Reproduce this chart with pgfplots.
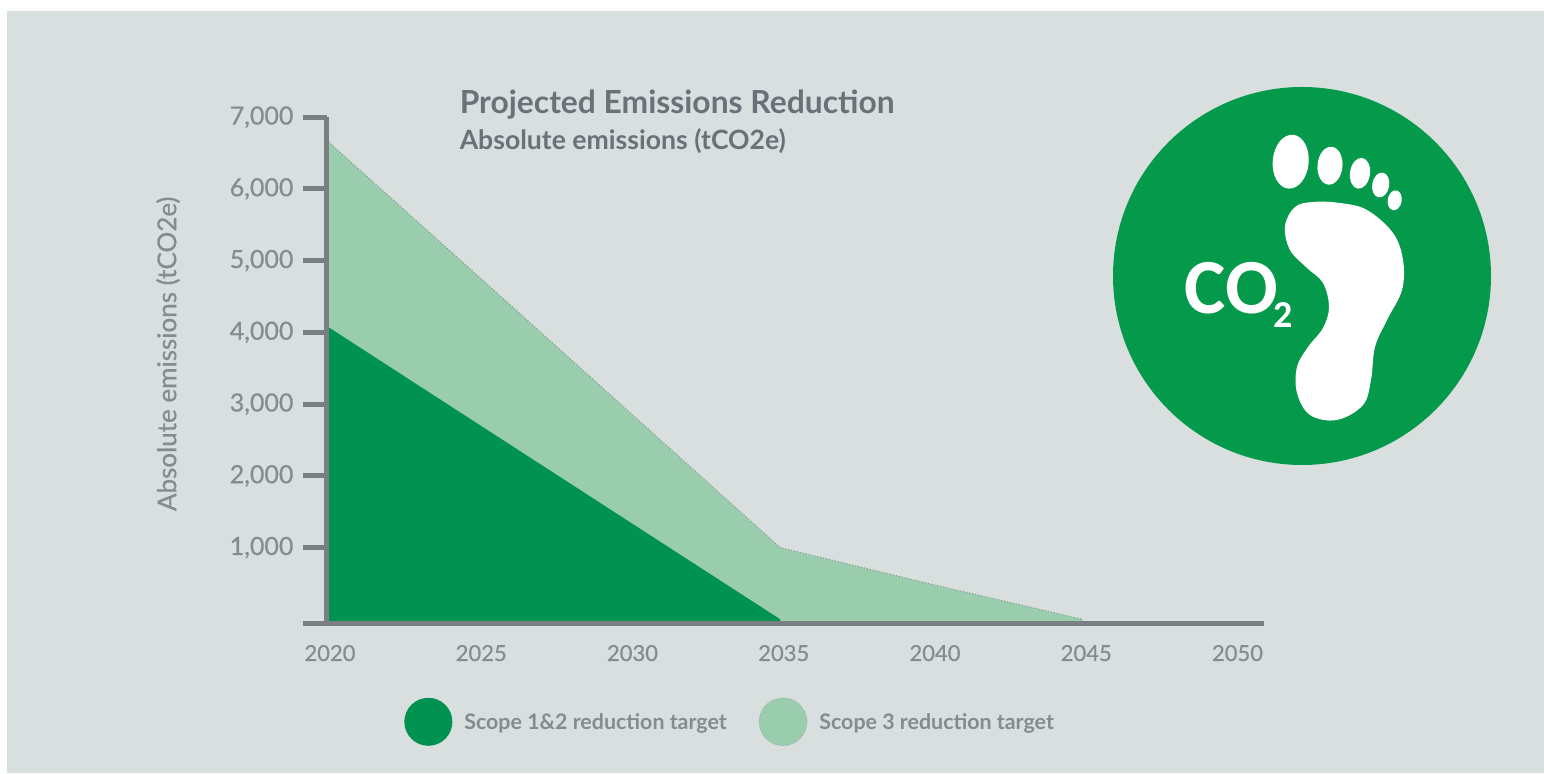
\documentclass[border=0pt]{standalone}
\usepackage{fontspec}
\setmainfont{Lato}
\newfontfamily\cofont{Carlito}
\newfontfamily\labelfont[FakeBold=0.5]{Lato}
\usepackage{pgfplots}
\pgfplotsset{compat=1.18}

\definecolor{panel}{HTML}{D9DFDF}
\definecolor{axisgray}{HTML}{7A7F83}
\definecolor{labelgray}{HTML}{868B8E}
\definecolor{titlegray}{HTML}{687279}
\definecolor{scopedark}{HTML}{009250}
\definecolor{scopelight}{HTML}{9ACDAD}
\definecolor{badge}{HTML}{059A4B}

\begin{document}
\begin{tikzpicture}
\path[use as bounding box] (0,0) rectangle (772pt,387pt);
% background panel and the badge, in reference pixels
\begin{scope}[x=0.5pt,y=-0.5pt,yshift=387pt]
\fill[panel] (7,11) rectangle (1544,773);
\fill[badge] (1302,276) circle[radius=189];
\fill[white,rotate around={-5:(1290.7,161.7)}] (1290.7,161.7) ellipse[x radius=18,y radius=27];
\fill[white,rotate around={-5:(1330,165.7)}] (1330,165.7) ellipse[x radius=12.5,y radius=19];
\fill[white,rotate around={-8:(1360,173.3)}] (1360,173.3) ellipse[x radius=10,y radius=15.5];
\fill[white,rotate around={-10:(1380.7,185)}] (1380.7,185) ellipse[x radius=8.5,y radius=12.5];
\fill[white,rotate around={-10:(1394.7,200.3)}] (1394.7,200.3) ellipse[x radius=7,y radius=10];
\fill[white] plot[smooth cycle,tension=0.6] coordinates {
  (1285,226) (1295,207) (1313,202) (1340,203) (1367,210) (1393,233)
  (1403,260) (1402,290) (1387,320) (1375,347) (1371,380) (1363,405)
  (1337,420) (1310,415) (1297,393) (1297,367) (1308,347) (1323,328)
  (1329,307) (1323,283) (1307,268) (1290,250)};
\node[anchor=base west,inner sep=0pt,text=white,font={\cofont\bfseries\fontsize{39pt}{39pt}\selectfont}] at (1184,314)
  {CO\kern-2pt\fontsize{19pt}{19pt}\selectfont\raisebox{-7pt}{2}};
\end{scope}

\begin{axis}[
    at={(163.25pt,75pt)},
    anchor=south west,
    x=15.125pt,
    y=0.035875pt,
    xmin=2020, xmax=2051,
    ymin=-65, ymax=7000,
    axis lines=left,
    axis line style={-,line width=2.5pt,color=axisgray},
    axis on top,
    xtick={2020,2025,2030,2035,2040,2045,2050},
    ytick={1000,2000,3000,4000,5000,6000,7000},
    extra y ticks={-65},
    extra y tick labels={},
    tick align=outside,
    major tick length=12pt,
    y tick style={line width=2.5pt,color=axisgray},
    x tick style={draw=none},
    /pgf/number format/assume math mode=true,
    y tick label style={/pgf/number format/1000 sep={,},text=labelgray,font=\labelfont\fontsize{12.5pt}{14pt}\selectfont,xshift=-1pt},
    x tick label style={/pgf/number format/1000 sep={},text=labelgray,font=\labelfont\fontsize{11pt}{13pt}\selectfont,xshift=1.75pt,yshift=5pt},
    ylabel={Absolute emissions (tCO2e)},
    ylabel style={at={(axis description cs:-0.169,0.533)},anchor=center,text=labelgray,font=\labelfont\fontsize{13pt}{15pt}\selectfont},
    title={{\bfseries\fontsize{15.9pt}{20pt}\selectfont Projected Emissions Reduction}\\[3.5pt]{\bfseries\fontsize{13.3pt}{16pt}\selectfont Absolute emissions (tCO2e)}},
    title style={at={(axis description cs:0.1417,1.030)},anchor=north west,align=left,text=titlegray,inner sep=0pt},
    legend columns=2,
    legend cell align=left,
    legend style={at={(axis description cs:0.4315,-0.193)},anchor=center,draw=none,fill=none,
        font=\bfseries\fontsize{10.7pt}{12pt}\selectfont,text=labelgray,
        /tikz/every even column/.append style={column sep=14pt}},
    legend image code/.code={\path[#1] (0.2cm,0.5pt) circle[radius=12pt]; \path (0.2cm+16pt,0);},
]
% total (scope 1, 2 and 3) and scope 1&2
\addplot[fill=scopelight,draw=none,forget plot] coordinates {
    (2020,6680) (2025,4790) (2030,2895) (2035,1000) (2040,490) (2045,0)
} |- (axis cs:2020,-65) -- cycle;
\addplot[fill=scopedark,draw=none,forget plot] coordinates {
    (2020,4090) (2025,2726) (2030,1363) (2035,0)
} |- (axis cs:2020,-65) -- cycle;
\addplot[color=axisgray!70!scopelight,line width=0.5pt,densely dotted,forget plot] coordinates {
    (2020,6680) (2025,4790) (2030,2895) (2035,1000) (2040,490) (2045,0)
};
\addlegendimage{fill=scopedark,draw=none}
\addlegendentry{Scope 1\&2 reduction target}
\addlegendimage{fill=scopelight,draw=axisgray!70!scopelight,densely dotted,line width=0.3pt}
\addlegendentry{Scope 3 reduction target}
\end{axis}
\end{tikzpicture}
\end{document}
